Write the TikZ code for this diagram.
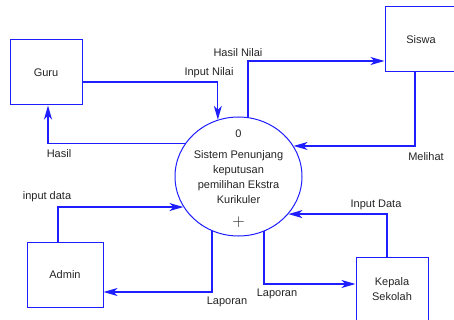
\documentclass[tikz,border=0pt]{standalone}
\usepackage{fontspec}
\setmainfont{Liberation Sans}
\usetikzlibrary{shapes.geometric,arrows.meta}
\definecolor{dfdblue}{RGB}{30,30,255}
\definecolor{txtgray}{RGB}{35,35,35}
\begin{document}
\begin{tikzpicture}[x=1pt,y=-1pt,
  font=\fontsize{11}{15}\selectfont,
  entity/.style={draw=dfdblue,line width=1pt,rectangle,inner sep=0pt,minimum height=65pt,text=txtgray,align=center},
  proc/.style={draw=dfdblue,line width=1pt,ellipse,inner sep=0pt,minimum width=127pt,minimum height=119pt},
  lbl/.style={text=txtgray,inner sep=0pt},
  flow/.style={draw=dfdblue,line width=1.3pt,-{Stealth[length=14pt,width=8pt,inset=4pt]}}
]
\useasboundingbox (0,0) rectangle (454,320);
\clip (0,0) rectangle (454,320);

\node[entity,minimum width=72pt] (guru) at (46,72.5) {Guru};
\node[entity,minimum width=72pt] (siswa) at (421,39.5) {Siswa};
\node[entity,minimum width=76pt] (admin) at (65,274.5) {Admin};
\node[entity,minimum width=72pt] (kepala) at (392,289.5) {Kepala\\Sekolah};

\node[proc] (sys) at (238.5,176.5) {};
\node[lbl] (num) at (238.5,134) {0};
\node[lbl,align=center] (systxt) at (238.5,177.5) {Sistem Penunjang\\keputusan\\pemilihan Ekstra\\Kurikuler};
\node[lbl,font=\fontsize{16}{16}\selectfont] (plus) at (238.5,222.5) {$+$};

\draw[flow] ([yshift=-9.5pt]guru.east) -| (sys.110);
\draw[flow] (sys.148.6) -| ([xshift=2pt]guru.south);
\draw[flow] (sys.81.8) |- ([yshift=-21.5pt]siswa.west);
\draw[flow] ([xshift=-6pt]siswa.south) |- (sys.29.2);
\draw[flow] ([xshift=-7pt]admin.north) |- (sys.209.2);
\draw[flow] (sys.244.9) |- ([yshift=-17.5pt]admin.east);
\draw[flow] (sys.295.1) |- ([yshift=5.5pt]kepala.west);
\draw[flow] ([xshift=-5pt]kepala.north) |- (sys.323.9);

\node[lbl] (l1) at (238,53) {Hasil Nilai};
\node[lbl] (l2) at (209,73) {Input Nilai};
\node[lbl] (l3) at (59,154) {Hasil};
\node[lbl] (l4) at (426,157) {Melihat};
\node[lbl] (l5) at (47,197) {input data};
\node[lbl] (l6) at (227,302) {Laporan};
\node[lbl] (l7) at (277,294) {Laporan};
\node[lbl] (l8) at (376,205) {Input Data};
\end{tikzpicture}
\end{document}
